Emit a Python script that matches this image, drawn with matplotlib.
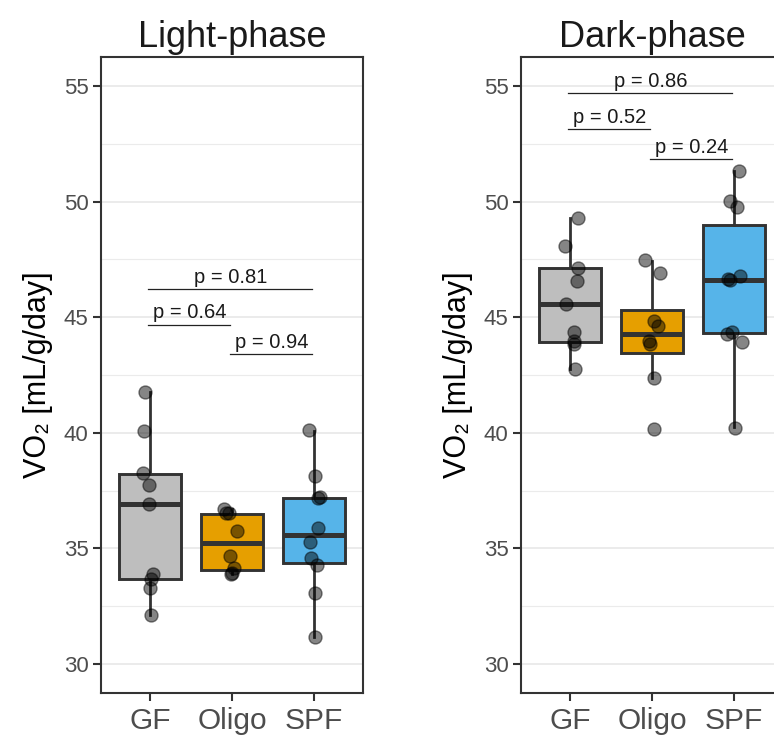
import matplotlib
matplotlib.use("Agg")
import matplotlib.pyplot as plt
import numpy as np
from matplotlib.ticker import MultipleLocator

plt.rcParams['font.family'] = ['Liberation Sans', 'DejaVu Sans']

groups = ["GF", "Oligo", "SPF"]
colors = ["#BEBEBE", "#E69F00", "#56B4E9"]

# individual animals, light phase
light_gf = [41.78, 40.07, 38.26, 37.74, 36.91, 33.90, 33.70, 33.31, 32.13]
light_oligo = [36.72, 36.52, 36.52, 35.77, 34.68, 34.15, 33.93, 33.88]
light_spf = [40.13, 38.12, 37.21, 37.18, 35.90, 35.30, 34.57, 34.29, 33.08, 31.15]

# individual animals, dark phase
dark_gf = [49.30, 48.06, 47.14, 46.57, 45.57, 44.35, 43.95, 43.82, 42.78]
dark_oligo = [47.46, 46.91, 44.83, 44.64, 43.96, 43.83, 42.36, 40.15]
dark_spf = [51.33, 50.03, 49.75, 46.77, 46.65, 46.59, 44.35, 44.28, 43.93, 40.22]

# jitter offsets (category units)
light_jitter = [
    [-0.065, -0.077, -0.082, -0.016, -0.012, 0.037, 0.016, -0.004, 0.012],
    [-0.094, -0.073, -0.033, 0.061, -0.021, 0.021, 0.004, -0.008],
    [-0.065, 0.012, 0.070, 0.045, 0.045, -0.052, -0.037, 0.037, 0.016, 0.009],
]
dark_jitter = [
    [0.094, -0.057, 0.101, 0.082, -0.049, 0.045, 0.045, 0.045, 0.065],
    [-0.082, 0.094, 0.021, 0.070, -0.033, -0.024, 0.021, 0.021],
    [0.065, -0.045, 0.037, 0.077, -0.077, -0.045, -0.028, -0.085, 0.101, 0.012],
]

# box statistics
light_whislo = [32.13, 33.90, 31.15]
light_q1 = [33.67, 34.07, 34.36]
light_med = [36.91, 35.22, 35.60]
light_q3 = [38.23, 36.49, 37.20]
light_whishi = [41.76, 36.72, 40.10]

dark_whislo = [42.78, 42.39, 40.26]
dark_q1 = [43.92, 43.46, 44.32]
dark_med = [45.57, 44.29, 46.62]
dark_q3 = [47.14, 45.30, 48.98]
dark_whishi = [49.27, 47.41, 51.33]

# pairwise comparisons
pairs = [(0, 1), (1, 2), (0, 2)]
light_pvals = ["0.64", "0.94", "0.81"]
light_p_y = [44.68, 43.42, 46.22]
dark_pvals = ["0.52", "0.24", "0.86"]
dark_p_y = [53.13, 51.85, 54.68]


def draw_panel(ax, title, points, jitter, whislo, q1, med, q3, whishi, pvals, p_y):
    ax.set_xlim(0.4, 3.6)
    ax.set_ylim(28.75, 56.25)
    ax.yaxis.set_major_locator(MultipleLocator(5))
    ax.yaxis.set_minor_locator(MultipleLocator(2.5))
    ax.grid(axis='y', which='major', color='#EBEBEB', linewidth=1.4, zorder=0)
    ax.grid(axis='y', which='minor', color='#EBEBEB', linewidth=0.8, zorder=0)
    ax.set_axisbelow(True)

    stats = []
    for i in range(3):
        stats.append({"whislo": whislo[i], "q1": q1[i], "med": med[i],
                      "q3": q3[i], "whishi": whishi[i], "fliers": []})
    bp = ax.bxp(stats, positions=[1, 2, 3], widths=0.75, patch_artist=True,
                showcaps=False,
                boxprops=dict(edgecolor='#333333', linewidth=2.1),
                whiskerprops=dict(color='#333333', linewidth=2.0),
                medianprops=dict(color='#333333', linewidth=3.6, solid_capstyle='butt'))
    for patch, c in zip(bp['boxes'], colors):
        patch.set_facecolor(c)

    for i, (vals, jit) in enumerate(zip(points, jitter)):
        xs = np.full(len(vals), i + 1.0) + np.array(jit)
        ax.scatter(xs, vals, s=88, color='black', alpha=0.48,
                   edgecolors='black', linewidths=1.0, zorder=5)

    for (a, b), p, y in zip(pairs, pvals, p_y):
        ax.plot([a + 1 - 0.03, b + 1 - 0.02], [y, y], color='#222222', linewidth=0.9,
                zorder=6)
        ax.annotate(f"p = {p}", xy=((a + b) / 2 + 1 - 0.02, y), xytext=(0, 1.5),
                    textcoords='offset points', ha='center', va='bottom',
                    fontsize=14.5, color='#1A1A1A')

    ax.set_xticks([1, 2, 3])
    ax.set_xticklabels(groups)
    ax.tick_params(axis='x', labelsize=21.5, colors='#333333', labelcolor='#4D4D4D',
                   length=6, width=1.5, pad=4)
    ax.tick_params(axis='y', which='major', labelsize=16, colors='#333333',
                   labelcolor='#4D4D4D', length=6, width=1.5, pad=3)
    ax.tick_params(axis='y', which='minor', length=0)
    for sp in ax.spines.values():
        sp.set_color('#333333')
        sp.set_linewidth(1.5)
    ax.set_title(title, fontsize=26, pad=7, color='#1A1A1A')
    ax.set_ylabel("VO₂ [mL/g/day]", fontsize=22, labelpad=8)


fig = plt.figure(figsize=(7.74, 7.39), dpi=100)
ax1 = fig.add_axes([101 / 774, 46 / 739, 262 / 774, 636 / 739])
ax2 = fig.add_axes([521 / 774, 46 / 739, 262 / 774, 636 / 739])

draw_panel(ax1, "Light-phase", [light_gf, light_oligo, light_spf], light_jitter,
           light_whislo, light_q1, light_med, light_q3, light_whishi,
           light_pvals, light_p_y)
draw_panel(ax2, "Dark-phase", [dark_gf, dark_oligo, dark_spf], dark_jitter,
           dark_whislo, dark_q1, dark_med, dark_q3, dark_whishi,
           dark_pvals, dark_p_y)

fig.savefig("out.png", dpi=100)
